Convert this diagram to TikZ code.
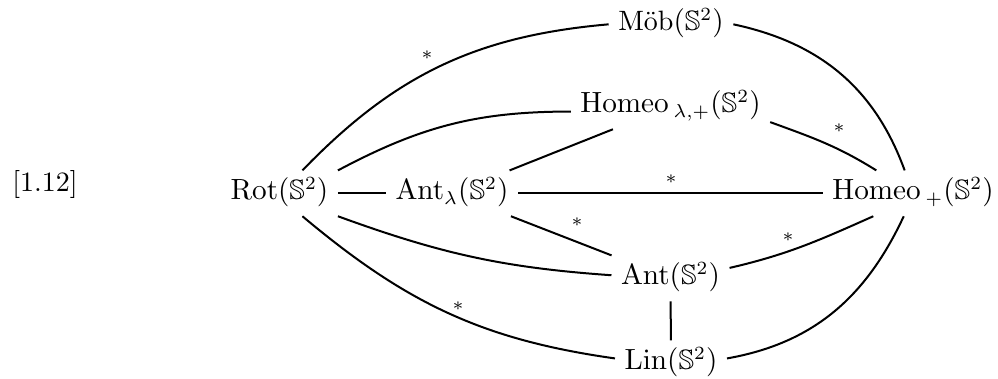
\documentclass[tikz,border=0pt]{standalone}
\usepackage{amssymb}
\begin{document}
\begin{tikzpicture}[x=0.375pt,y=-0.375pt,
  obj/.style={anchor=base, inner sep=3.4pt, text height=0.75em, text depth=0.25em,
              font=\fontsize{10.5}{12}\selectfont},
  lbl/.style={inner sep=0pt, font=\fontsize{10.5}{12}\selectfont},
  conn/.style={line width=0.75pt}]
\useasboundingbox (0,0) rectangle (998,379);

% equation tag
\node[obj] (tag) at (45,192) {[1.12]};

% groups
\node[obj] (rot)   at (279.5,200) {$\mathrm{Rot}(\mathbb{S}^2)$};
\node[obj] (antl)  at (452,200)   {$\mathrm{Ant}_\lambda(\mathbb{S}^2)$};
\node[obj] (homp)  at (913,200)   {$\mathrm{Homeo}\,{}_{+}(\mathbb{S}^2)$};
\node[obj] (mob)   at (671,31)    {$\textrm{Möb}(\mathbb{S}^2)$};
\node[obj] (homlp) at (670.5,113) {$\mathrm{Homeo}\,{}_{\lambda,+}(\mathbb{S}^2)$};
\node[obj] (ant)   at (670.5,285) {$\mathrm{Ant}(\mathbb{S}^2)$};
\node[obj] (lin)   at (671,370)   {$\mathrm{Lin}(\mathbb{S}^2)$};

% straight connections
\draw[conn] (rot) -- (antl);
\draw[conn] (antl) -- (homp);
\draw[conn] (antl) -- (homlp);
\draw[conn] (antl) -- (ant);
\draw[conn] (ant) -- (lin);

% curved connections
\draw[conn] (rot.45) to[out=46,in=185] (mob.west);
\draw[conn] (rot.north east) to[out=28,in=180] (homlp.183);
\draw[conn] (rot.south east) to[out=-20,in=176] (ant.177);
\draw[conn] (rot.-45) to[out=-40,in=172] (lin.175);
\draw[conn] (mob.east) to[out=-12,in=110] (homp.110);
\draw[conn] (homlp.-9) to[out=-20,in=148] (homp.148);
\draw[conn] (ant.10) to[out=13,in=204] (homp.210);
\draw[conn] (lin.5) to[out=10,in=245] (homp.248);

% star marks
\node[lbl] (s1) at (427,55)  {$\scriptstyle *$};
\node[lbl] (s2) at (671,179) {$\scriptstyle *$};
\node[lbl] (s3) at (577,222) {$\scriptstyle *$};
\node[lbl] (s4) at (839,128) {$\scriptstyle *$};
\node[lbl] (s5) at (788,237) {$\scriptstyle *$};
\node[lbl] (s6) at (458,306) {$\scriptstyle *$};
\end{tikzpicture}
\end{document}
